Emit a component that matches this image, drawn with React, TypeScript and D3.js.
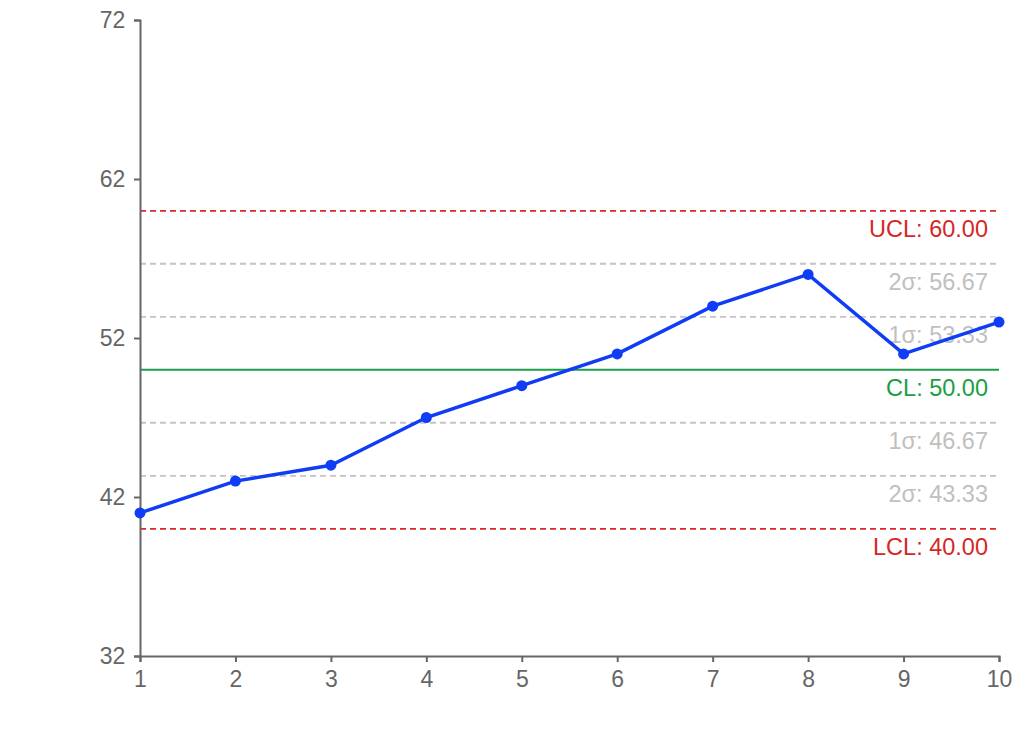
import React, { useEffect, useRef } from "react";
import * as d3 from "d3";

const samples = [1, 2, 3, 4, 5, 6, 7, 8, 9, 10];
const values = [41, 43, 44, 47, 49, 51, 54, 56, 51, 53];
const yTicks = [32, 42, 52, 62, 72];
const limitLabels = ["UCL", "2σ", "1σ", "CL", "1σ", "2σ", "LCL"];
const limitValues = [60, 56.67, 53.33, 50, 46.67, 43.33, 40];
const limitKinds = ["limit", "sigma", "sigma", "center", "sigma", "sigma", "limit"];

const W = 1020;
const H = 736;
const margin = { top: 20, right: 21, bottom: 80, left: 140 };

export default function App() {
  const ref = useRef<SVGSVGElement>(null);
  useEffect(() => {
    const svg = d3.select(ref.current);
    svg.selectAll("*").remove();
    const x = d3.scaleLinear().domain([1, 10]).range([margin.left, W - margin.right]);
    const y = d3.scaleLinear().domain([32, 72]).range([H - margin.bottom, margin.top]);
    const font = "Liberation Sans, Arial, sans-serif";
    const colorFor = (k: string) => (k === "limit" ? "#e0262b" : k === "center" ? "#1e9e4a" : "#c4c4c4");
    const textColorFor = (k: string) => (k === "limit" ? "#d62728" : k === "center" ? "#1a9e44" : "#c0c0c0");

    const g = svg.append("g");
    limitValues.forEach((v, i) => {
      const k = limitKinds[i];
      g.append("line")
        .attr("x1", x(1)).attr("x2", x(10))
        .attr("y1", y(v)).attr("y2", y(v))
        .attr("stroke", colorFor(k))
        .attr("stroke-width", k === "center" ? 2 : 1.8)
        .attr("stroke-dasharray", k === "center" ? null : "6,4");
    });

    const xAxis = d3.axisBottom(x).tickValues(samples).tickFormat(d3.format("d")).tickSizeOuter(6);
    const yAxis = d3.axisLeft(y).tickValues(yTicks).tickSizeOuter(6);
    const gx = svg.append("g").attr("transform", `translate(0,${H - margin.bottom})`).call(xAxis);
    const gy = svg.append("g").attr("transform", `translate(${margin.left},0)`).call(yAxis);
    [gx, gy].forEach((a) => {
      a.selectAll("path,line").attr("stroke", "#666").attr("stroke-width", 2);
      a.selectAll("text").attr("fill", "#666").attr("font-size", 23).attr("font-family", font);
    });
    gx.selectAll("text").attr("dy", "0.95em");
    gy.selectAll("text").attr("dx", "-0.25em");

    limitValues.forEach((v, i) => {
      const k = limitKinds[i];
      svg.append("text")
        .attr("x", x(10) - 11)
        .attr("y", y(v) + 26)
        .attr("text-anchor", "end")
        .attr("font-family", font)
        .attr("font-size", 23.5)
        .attr("fill", textColorFor(k))
        .text(`${limitLabels[i]}: ${v.toFixed(2)}`);
    });

    const line = d3.line<number>().x((_, i) => x(samples[i])).y((d) => y(d));
    svg.append("path").datum(values).attr("d", line).attr("fill", "none").attr("stroke", "#0f3cf5").attr("stroke-width", 3.5);
    svg.selectAll("circle.pt").data(values).enter().append("circle")
      .attr("cx", (_, i) => x(samples[i])).attr("cy", (d) => y(d)).attr("r", 5.5).attr("fill", "#0f3cf5");
  }, []);
  return (
    <svg ref={ref} width={W} height={H} style={{ position: "absolute", left: 0, top: 0, background: "#fff" }} />
  );
}
